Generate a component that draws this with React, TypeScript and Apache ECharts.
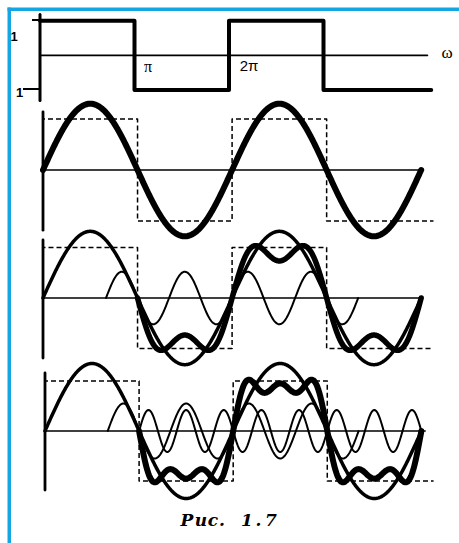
import React, { useEffect, useRef } from "react";
import * as echarts from "echarts";

// ---------- data (x in multiples of π, y in units of the square-wave amplitude) ----------
// Panel 1: the square wave
const squareX = [0, 1, 1, 2, 2, 3, 3, 4.14];
const squareY = [1, 1, -1, -1, 1, 1, -1, -1];

// Dashed reference square wave in panels 2–4
const refSquareX = [0, 0, 1, 1, 2, 2, 3, 3, 4.13];
const refSquareY = [0, 1, 1, -1, -1, 1, 1, -1, -1];

// Individual harmonics
const curvePanel = [1, 2, 2, 3, 3, 3];
const curveOrder = [1, 1, 3, 1, 3, 5];
const curveAmp = [1.3, 1.32, 0.52, 1.35, 0.55, 0.42];
const curveFrom = [0, 0, 0.667, 0, 0.667, 1];
const curveTo = [4, 4, 3.333, 4, 3.333, 4];
const curvePhase = [0, 0, 0, 0, 0, 1];

// Partial sums (heavy curves)
const sumPanel = [2, 3];
const sumOrders = [[1, 3], [1, 3, 5]];
const sumGain = [1.1, 1.1];
const sumFrom = [1, 1];
const sumTo = [4, 4];

// Axes per panel
const axisEnd = [4.1, 4.02, 4.0, 4.04];
const vAxisTop = [1.18, 1.14, 1.15, 1.16];
const vAxisBottom = [-1.3, -1.18, -1.19, -1.18];

// Labels
const tickLabels = ["1", "1"];
const piLabels = ["π", "2π"];
const freqLabel = "ω";
const captionChars = ["Р", "и", "с", ".", "1", ".", "7"];

// ---------- layout / style ----------
const panelX0 = [40, 43, 43, 45];
const panelY0 = [54, 170, 298, 431];
const panelP = [94.5, 95, 95, 95];
const panelU = [35.5, 51, 50.5, 50];
const XMAX = 4.4;
const YMAX = 1.6;
const YMIN = -1.6;
const curveWidth = [6, 3.5, 2, 3.5, 2, 2];
const sumWidth = [5.5, 6];
const STEP = 0.005;
const BLUE = "#14a6e3";
const captionX = [187, 201, 213, 222, 247, 258.5, 271];

function sampleHarmonic(order: number, amp: number, from: number, to: number, phase: number) {
  const n = Math.round((to - from) / STEP);
  const pts: number[][] = [];
  for (let i = 0; i <= n; i++) {
    const x = from + ((to - from) * i) / n;
    pts.push([x, amp * Math.sin(order * Math.PI * (x - phase))]);
  }
  return pts;
}

function sampleSum(orders: number[], gain: number, from: number, to: number) {
  const n = Math.round((to - from) / STEP);
  const pts: number[][] = [];
  for (let i = 0; i <= n; i++) {
    const x = from + ((to - from) * i) / n;
    let s = 0;
    for (const k of orders) s += Math.sin(k * Math.PI * x) / k;
    pts.push([x, gain * s]);
  }
  return pts;
}

function line(idx: number, data: number[][], width: number, z: number, dashed = false) {
  return {
    type: "line",
    xAxisIndex: idx,
    yAxisIndex: idx,
    data,
    showSymbol: false,
    symbol: "none",
    clip: false,
    silent: true,
    z,
    lineStyle: {
      color: "#000",
      width,
      type: dashed ? [5, 3] : "solid",
      cap: dashed ? "butt" : "round",
      join: "round",
    },
  };
}

export default function App() {
  const ref = useRef<HTMLDivElement>(null);
  useEffect(() => {
    if (!ref.current) return;
    const chart = echarts.init(ref.current, undefined, { renderer: "svg" });

    const grid: any[] = [];
    const xAxis: any[] = [];
    const yAxis: any[] = [];
    const series: any[] = [];

    for (let p = 0; p < 4; p++) {
      grid.push({
        left: panelX0[p],
        top: panelY0[p] - YMAX * panelU[p],
        width: XMAX * panelP[p],
        height: (YMAX - YMIN) * panelU[p],
        containLabel: false,
      });
      xAxis.push({ type: "value", gridIndex: p, min: 0, max: XMAX, show: false });
      yAxis.push({ type: "value", gridIndex: p, min: YMIN, max: YMAX, show: false });
      // axes
      series.push(line(p, [[0, 0], [axisEnd[p], 0]], 1.6, 1));
      series.push(line(p, [[0, vAxisTop[p]], [0, vAxisBottom[p]]], p === 0 ? 3 : 2.8, 1));
    }

    // panel 1 square wave
    series.push(line(0, squareX.map((x, i) => [x, squareY[i]]), 4, 5));
    // reference dashed squares
    for (let p = 1; p < 4; p++) {
      series.push(line(p, refSquareX.map((x, i) => [x, refSquareY[i]]), 1.5, 2, true));
    }
    // harmonics
    curvePanel.forEach((p, i) => {
      const isFund = curveOrder[i] === 1;
      series.push(
        line(
          p,
          sampleHarmonic(curveOrder[i], curveAmp[i], curveFrom[i], curveTo[i], curvePhase[i]),
          curveWidth[i],
          isFund ? 4 : 3
        )
      );
    });
    // sums
    sumPanel.forEach((p, i) => {
      series.push(line(p, sampleSum(sumOrders[i], sumGain[i], sumFrom[i], sumTo[i]), sumWidth[i], 6));
    });

    const txt = (x: number, y: number, text: string, font: any) => ({
      type: "text",
      x,
      y,
      silent: true,
      style: {
        text,
        fill: "#000",
        align: "center",
        verticalAlign: "middle",
        ...font,
      },
    });

    const graphic: any[] = [
      { type: "rect", shape: { x: 7.5, y: 7.5, width: 3.5, height: 540 }, style: { fill: BLUE }, silent: true },
      { type: "rect", shape: { x: 7.5, y: 7.5, width: 452, height: 3.5 }, style: { fill: BLUE }, silent: true },
      // ticks of panel 1
      { type: "line", shape: { x1: 32, y1: 20, x2: 41, y2: 20 }, style: { stroke: "#000", lineWidth: 2 }, silent: true },
      { type: "line", shape: { x1: 23, y1: 89, x2: 41, y2: 89 }, style: { stroke: "#000", lineWidth: 2 }, silent: true },
      txt(14, 36, tickLabels[0], { fontFamily: "Liberation Sans", fontSize: 13, fontWeight: "bold" }),
      txt(19.5, 92, tickLabels[1], { fontFamily: "Liberation Sans", fontSize: 13, fontWeight: "bold" }),
      txt(148, 66, piLabels[0], { fontFamily: "Liberation Serif", fontSize: 16 }),
      txt(249, 65, piLabels[1], { fontFamily: "Liberation Sans", fontSize: 15 }),
      txt(447, 52, freqLabel, { fontFamily: "Liberation Serif", fontSize: 17 }),
      ...captionChars.map((c, i) =>
        txt(captionX[i], 520, c, {
          fontFamily: "DejaVu Serif",
          fontStyle: "italic",
          fontWeight: "bold",
          fontSize: 17,
        })
      ),
    ];

    chart.setOption({
      animation: false,
      backgroundColor: "#fff",
      grid,
      xAxis,
      yAxis,
      series,
      graphic,
    });
    return () => chart.dispose();
  }, []);

  return (
    <div
      ref={ref}
      style={{ position: "absolute", left: 0, top: 0, width: 459, height: 543 }}
    />
  );
}
